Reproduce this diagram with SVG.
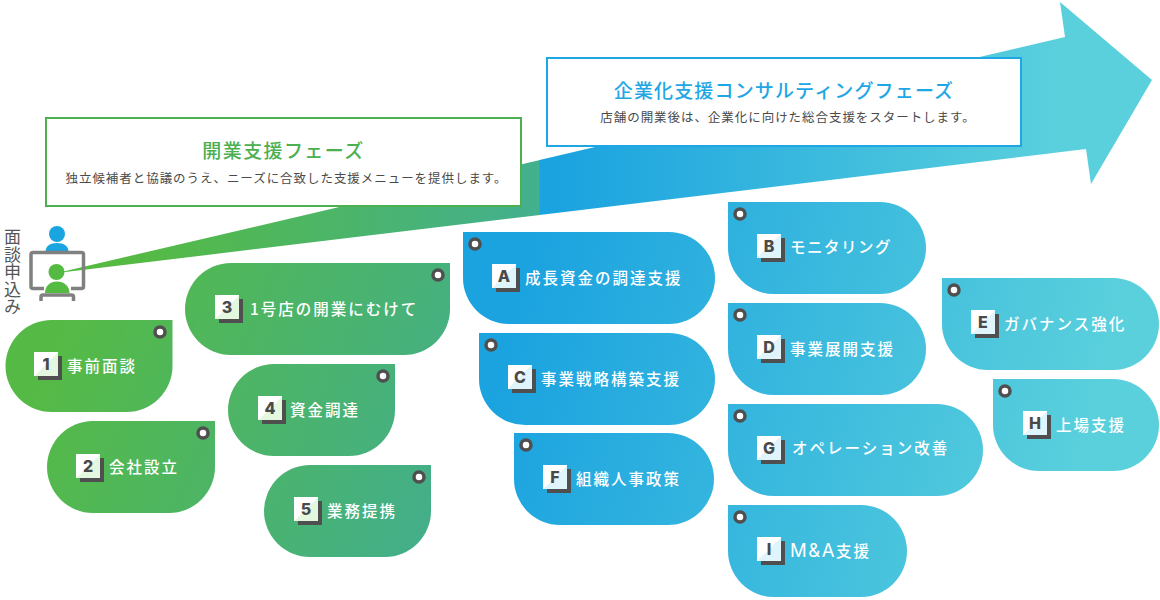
<svg xmlns="http://www.w3.org/2000/svg" xmlns:xlink="http://www.w3.org/1999/xlink" width="1160" height="600" viewBox="0 0 1160 600">
<style>
text{font-family:"Noto Sans CJK JP","Noto Sans",sans-serif}
.lbl{font-size:15.5px;fill:#fff;letter-spacing:2px;font-weight:500}
.lat{font-family:Inter,"Liberation Sans",sans-serif;font-size:18.5px;font-weight:400;letter-spacing:1.5px}
.bl{font-family:Inter,"Liberation Sans",sans-serif;font-size:16px;font-weight:800;fill:#4a4a4a;text-anchor:middle}
.sd{fill:#4f4f4f}
.pin{fill:#fff;stroke:#4f4f4f;stroke-width:3.5}
.sub{font-size:12.5px;fill:#4a4a4a;text-anchor:middle;letter-spacing:.95px}
.ttl{font-size:19px;font-weight:500;text-anchor:middle;letter-spacing:1.4px}
.gn{fill:url(#gG)}
.bu{fill:url(#gB)}
</style>
<defs>
<linearGradient id="gA" gradientUnits="userSpaceOnUse" x1="130" y1="0" x2="540" y2="0"><stop offset="0" stop-color="#55ba42"/><stop offset="1" stop-color="#43b08f"/></linearGradient>
<linearGradient id="gC" gradientUnits="userSpaceOnUse" x1="560" y1="0" x2="1060" y2="0"><stop offset="0" stop-color="#1ba3e0"/><stop offset="1" stop-color="#5ad0dc"/></linearGradient>
<linearGradient id="gG" gradientUnits="userSpaceOnUse" x1="60" y1="330" x2="470" y2="500"><stop offset="0" stop-color="#55ba45"/><stop offset="1" stop-color="#42ae8e"/></linearGradient>
<linearGradient id="gB" gradientUnits="userSpaceOnUse" x1="520" y1="300" x2="1090" y2="440"><stop offset="0" stop-color="#1ba3e0"/><stop offset="1" stop-color="#5ad0dc"/></linearGradient>
<linearGradient id="bG" x1="0" y1="0" x2="1" y2="1"><stop offset="0.5" stop-color="#fff"/><stop offset="0.5" stop-color="#e3f8df"/></linearGradient>
<linearGradient id="bB" x1="0" y1="0" x2="1" y2="1"><stop offset="0.5" stop-color="#fff"/><stop offset="0.5" stop-color="#dff5fb"/></linearGradient>
</defs>
<g id="connectors">
<path fill="url(#gA)" d="M57 273L540 160V215Z"/>
<path fill="url(#gC)" d="M539.5 160L1065 37L1060 2L1152 80L1091 184L1086 149L539.5 215Z"/>
</g>
<g id="phase-open">
<rect x="46" y="118" width="475" height="88" fill="#fff" stroke="#4caf50" stroke-width="2"/>
<text class="ttl" x="283.500" y="158" fill="#4caf50">開業支援フェーズ</text>
<text class="sub" x="286.500" y="183">独立候補者と協議のうえ、ニーズに合致した支援メニューを提供します。</text>
</g>
<g id="phase-corp">
<rect x="547" y="58" width="474" height="88" fill="#fff" stroke="#1ea7e4" stroke-width="2"/>
<text class="ttl" x="784" y="98" fill="#1ea7e4" style="letter-spacing:1.15px">企業化支援コンサルティングフェーズ</text>
<text class="sub" x="788" y="122">店舗の開業後は、企業化に向けた総合支援をスタートします。</text>
</g>
<g id="applicant">
<circle cx="57" cy="234" r="8" fill="#1ba5e0"/>
<path d="M45.500 252C45.500 246 50 243 57 243S68.500 246 68.500 252Z" fill="#1ba5e0"/>
<path d="M44 288.500H33Q31 288.500 31 286.500V254.500Q31 252.500 33 252.500H81.500Q83.500 252.500 83.500 254.500V286.500Q83.500 288.500 81.500 288.500H71" fill="none" stroke="#808080" stroke-width="3.500"/>
<path d="M41 301V297Q41 295 43 295H71.500Q73.500 295 73.500 297V301" fill="none" stroke="#808080" stroke-width="3.500"/>
<path d="M45 293C45 286 50 281.500 57 281.500S69.500 286 69.500 293Z" fill="#55ba42"/>
<circle cx="56.500" cy="272" r="8" fill="#55ba42"/>
<text x="12.500" y="228" font-size="17" fill="#555" letter-spacing="0.6" style="writing-mode:vertical-rl;text-orientation:upright">面談申込み</text>
</g>
<g id="n1"><path class="gn" d="M172.500 320V366A46 46 0 0 1 126.500 412H51.500A46 46 0 0 1 51.500 320Z"/><circle class="pin" cx="160" cy="332" r="5"/><rect class="sd" x="38" y="356" width="24" height="24"/><rect fill="url(#bG)" x="34" y="352" width="24" height="24"/><text class="bl" x="46" y="370">1</text><text class="lbl" x="67" y="372">事前面談</text></g>
<g id="n2"><path class="gn" d="M215 421V467A46 46 0 0 1 169 513H93A46 46 0 0 1 93 421Z"/><circle class="pin" cx="203" cy="433" r="5"/><rect class="sd" x="80" y="458" width="24" height="24"/><rect fill="url(#bG)" x="76" y="454" width="24" height="24"/><text class="bl" x="88" y="472">2</text><text class="lbl" x="109" y="473">会社設立</text></g>
<g id="n3"><path class="gn" d="M450 263V309A46 46 0 0 1 404 355H231A46 46 0 0 1 231 263Z"/><circle class="pin" cx="438" cy="275" r="5"/><rect class="sd" x="219" y="299" width="24" height="24"/><rect fill="url(#bG)" x="215" y="295" width="24" height="24"/><text class="bl" x="227" y="313">3</text><text class="lbl" x="250" y="315">1号店の開業にむけて</text></g>
<g id="n4"><path class="gn" d="M395 364V410A46 46 0 0 1 349 456H274A46 46 0 0 1 274 364Z"/><circle class="pin" cx="383" cy="376" r="5"/><rect class="sd" x="262" y="400" width="24" height="24"/><rect fill="url(#bG)" x="258" y="396" width="24" height="24"/><text class="bl" x="270" y="414">4</text><text class="lbl" x="290" y="416">資金調達</text></g>
<g id="n5"><path class="gn" d="M431 465V511A46 46 0 0 1 385 557H310A46 46 0 0 1 310 465Z"/><circle class="pin" cx="419" cy="477" r="5"/><rect class="sd" x="298" y="501" width="24" height="24"/><rect fill="url(#bG)" x="294" y="497" width="24" height="24"/><text class="bl" x="306" y="515">5</text><text class="lbl" x="327" y="517">業務提携</text></g>
<g id="nA"><path class="bu" d="M463 232H669A46 46 0 0 1 669 324H509A46 46 0 0 1 463 278Z"/><circle class="pin" cx="475" cy="244" r="5"/><rect class="sd" x="496" y="268" width="24" height="24"/><rect fill="url(#bB)" x="492" y="264" width="24" height="24"/><text class="bl" x="504" y="282">A</text><text class="lbl" x="525" y="284">成長資金の調達支援</text></g>
<g id="nC"><path class="bu" d="M479 333H669A46 46 0 0 1 669 425H525A46 46 0 0 1 479 379Z"/><circle class="pin" cx="491" cy="345" r="5"/><rect class="sd" x="512" y="369" width="24" height="24"/><rect fill="url(#bB)" x="508" y="365" width="24" height="24"/><text class="bl" x="520" y="383">C</text><text class="lbl" x="541" y="385">事業戦略構築支援</text></g>
<g id="nF"><path class="bu" d="M514 433H668A46 46 0 0 1 668 525H560A46 46 0 0 1 514 479Z"/><circle class="pin" cx="526" cy="445" r="5"/><rect class="sd" x="547" y="469" width="24" height="24"/><rect fill="url(#bB)" x="543" y="465" width="24" height="24"/><text class="bl" x="555" y="483">F</text><text class="lbl" x="576" y="485">組織人事政策</text></g>
<g id="nB"><path class="bu" d="M728 202H880A46 46 0 0 1 880 294H774A46 46 0 0 1 728 248Z"/><circle class="pin" cx="740" cy="214" r="5"/><rect class="sd" x="761" y="238" width="24" height="24"/><rect fill="url(#bB)" x="757" y="234" width="24" height="24"/><text class="bl" x="769" y="252">B</text><text class="lbl" x="790" y="253" style="letter-spacing:1.5px">モニタリング</text></g>
<g id="nD"><path class="bu" d="M728 303H880A46 46 0 0 1 880 395H774A46 46 0 0 1 728 349Z"/><circle class="pin" cx="740" cy="315" r="5"/><rect class="sd" x="761" y="339" width="24" height="24"/><rect fill="url(#bB)" x="757" y="335" width="24" height="24"/><text class="bl" x="769" y="353">D</text><text class="lbl" x="790" y="355">事業展開支援</text></g>
<g id="nG"><path class="bu" d="M728 404H937A46 46 0 0 1 937 496H774A46 46 0 0 1 728 450Z"/><circle class="pin" cx="740" cy="416" r="5"/><rect class="sd" x="761" y="440" width="24" height="24"/><rect fill="url(#bB)" x="757" y="436" width="24" height="24"/><text class="bl" x="769" y="454">G</text><text class="lbl" x="792" y="454">オペレーション改善</text></g>
<g id="nI"><path class="bu" d="M728 505H861A46 46 0 0 1 861 597H774A46 46 0 0 1 728 551Z"/><circle class="pin" cx="740" cy="517" r="5"/><rect class="sd" x="761" y="541" width="24" height="24"/><rect fill="url(#bB)" x="757" y="537" width="24" height="24"/><text class="bl" x="769" y="555">I</text><text class="lbl" x="790" y="557"><tspan class="lat">M&amp;A</tspan>支援</text></g>
<g id="nE"><path class="bu" d="M942 278H1113A46 46 0 0 1 1113 370H988A46 46 0 0 1 942 324Z"/><circle class="pin" cx="954" cy="290" r="5"/><rect class="sd" x="975" y="314" width="24" height="24"/><rect fill="url(#bB)" x="971" y="310" width="24" height="24"/><text class="bl" x="983" y="328">E</text><text class="lbl" x="1004" y="330">ガバナンス強化</text></g>
<g id="nH"><path class="bu" d="M993 379H1113A46 46 0 0 1 1113 471H1039A46 46 0 0 1 993 425Z"/><circle class="pin" cx="1005" cy="391" r="5"/><rect class="sd" x="1027" y="415" width="24" height="24"/><rect fill="url(#bB)" x="1023" y="411" width="24" height="24"/><text class="bl" x="1035" y="429">H</text><text class="lbl" x="1056" y="431">上場支援</text></g>
</svg>
